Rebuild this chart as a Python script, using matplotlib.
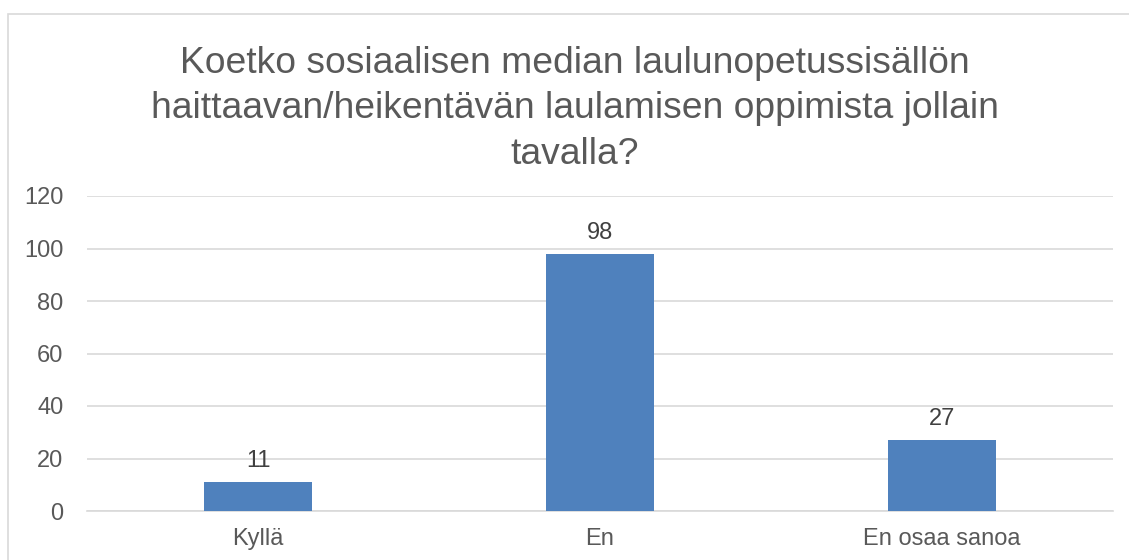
import matplotlib
matplotlib.use("Agg")
import matplotlib.pyplot as plt
from matplotlib.patches import Rectangle

categories = ["Kyllä", "En", "En osaa sanoa"]
values = [11, 98, 27]
yticks = [0, 20, 40, 60, 80, 100, 120]
title = "Koetko sosiaalisen median laulunopetussisällön\nhaittaavan/heikentävän laulamisen oppimista jollain\ntavalla?"

plt.rcParams['font.family'] = ['Liberation Sans', 'DejaVu Sans']

W, H = 1129, 560
fig = plt.figure(figsize=(W / 100, H / 100), dpi=100)
fig.patch.set_facecolor("white")

# chart border (extends beyond right/bottom edges)
fig.patches.append(Rectangle((8 / W, -0.05), 1.2, 1 - 14 / H + 0.05,
                             transform=fig.transFigure, fill=False,
                             edgecolor="#D9D9D9", linewidth=1.2))

ax = fig.add_axes([87 / W, 1 - 511 / H, (1113 - 87) / W, (511 - 196) / H])
x = range(len(categories))
bars = ax.bar(x, values, width=0.313, color="#4F81BD", zorder=3)
ax.set_xlim(-0.5, len(categories) - 0.5)
ax.set_ylim(0, 120)
ax.set_yticks(yticks)
ax.set_xticks(list(x))
ax.set_xticklabels(categories)
ax.grid(axis="y", color="#D9D9D9", linewidth=1.2, zorder=0)
for s in ["top", "right", "left"]:
    ax.spines[s].set_visible(False)
ax.spines["bottom"].set_color("#D9D9D9")
ax.spines["bottom"].set_linewidth(1.2)
ax.tick_params(axis="both", length=0, labelsize=17, colors="#595959")
ax.tick_params(axis="y", pad=17)
ax.tick_params(axis="x", pad=12)

for b, v in zip(bars, values):
    ax.annotate(str(v), (b.get_x() + b.get_width() / 2, v),
                xytext=(0, 7), textcoords="offset points",
                ha="center", va="bottom", fontsize=17, color="#404040")

fig.text(575 / W, 1 - 109 / H, title, ha="center", va="center",
         fontsize=26.8, color="#595959", linespacing=1.38)

fig.savefig("out.png", dpi=100, facecolor="white")
